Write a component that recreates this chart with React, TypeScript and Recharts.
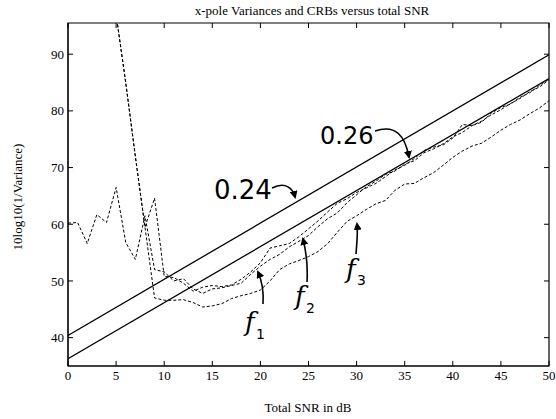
import React from 'react';
import { LineChart, Line, XAxis, YAxis, ReferenceLine, ReferenceArea } from 'recharts';

// total SNR in dB, 1 dB steps
const snr = [
  0, 1, 2, 3, 4, 5, 6, 7, 8, 9, 10, 11, 12, 13, 14, 15, 16, 17, 18, 19, 20, 21, 22, 23, 24, 25,
  26, 27, 28, 29, 30, 31, 32, 33, 34, 35, 36, 37, 38, 39, 40, 41, 42, 43, 44, 45, 46, 47, 48, 49, 50,
];

// 10log10(1/variance) for the three poles
const f1 = [
  60.2, 60.3, 56.6, 61.7, 60.3, 66.5, 56.8, 53.8, 61.5, 52, 51.6, 50, 50.4, 48.6, 47.8, 48.6, 48.8,
  49.2, 49.6, 51.2, 52.6, 53.8, 54.7, 56, 57, 58, 59.6, 61, 62, 63.8, 65.2, 66.6, 67.6, 68.8, 69.4,
  70.6, 71.2, 72.6, 73.3, 74.2, 75.4, 76.2, 77.4, 78.2, 79.3, 80.2, 81.3, 82.2, 83.4, 84.2, 85.5,
];
const f2 = [
  null, null, null, null, null, 97, 85, 72, 59.5, 64.6, 50.8, 50.6, 49.6, 48.2, 48.9, 49.2, 49,
  49.3, 50.3, 51.6, 53.2, 55.8, 56.2, 56.6, 57.8, 59.2, 60.6, 62.2, 63.7, 64.5, 65.6, 66.4, 67.2,
  68.4, 69.6, 70.4, 71.6, 73, 73.6, 74, 75.2, 77.6, 77.4, 78, 79.6, 80.6, 81.2, 82.4, 83.2, 84.5, 85.6,
];
const f3 = [
  null, null, null, null, null, 97, 85, 72, 59.5, 47, 46.6, 46.6, 46.7, 46.2, 45.4, 45.6, 46, 46.9,
  47.4, 47.8, 48.4, 50, 52, 53, 53.6, 54.3, 55.2, 56.6, 58.6, 60.5, 61.5, 62.6, 63.6, 64.2, 66,
  67.1, 67.2, 68.2, 69.1, 70.4, 71.8, 72.9, 73.8, 74.3, 75.4, 76.6, 77.6, 78.4, 79.5, 80.5, 81.8,
];

// CRB lines (straight), end points
const crbSnr = [0, 50];
const crb024 = [40.4, 89.9];
const crb026 = [36.3, 85.7];

const xTicks = [0, 5, 10, 15, 20, 25, 30, 35, 40, 45, 50];
const yTicks = [40, 50, 60, 70, 80, 90];

const X_MIN = 0;
const X_MAX = 50;
const Y_MIN = 35;
const Y_MAX = 95.5;
// inward tick length in data units (~5px)
const TICK_DX = 0.52;
const TICK_DY = 0.9;

const rows = snr.map((s, i) => {
  const k = crbSnr.indexOf(s);
  return {
    snr: s,
    f1: f1[i],
    f2: f2[i],
    f3: f3[i],
    c24: k >= 0 ? crb024[k] : null,
    c26: k >= 0 ? crb026[k] : null,
  };
});

const serif = '"Liberation Serif", "DejaVu Serif", serif';
const hand = '"DejaVu Sans", sans-serif';
const tickStyle = { fontFamily: serif, fontSize: 13, fill: '#000' };

const Notes = () => (
  <svg
    width={556}
    height={419}
    style={{ position: 'absolute', left: 0, top: 0, pointerEvents: 'none' }}
  >
    <defs>
      <marker id="ah" markerWidth="8" markerHeight="8" refX="6" refY="4" orient="auto" markerUnits="userSpaceOnUse">
        <path d="M0,0 L8,4 L0,8 z" fill="#000" />
      </marker>
    </defs>
    <text x={312} y={15} textAnchor="middle" fontFamily={serif} fontSize={13}>
      x-pole Variances and CRBs versus total SNR
    </text>
    <text x={308} y={412} textAnchor="middle" fontFamily={serif} fontSize={13}>
      Total SNR in dB
    </text>
    <text
      x={22}
      y={197}
      textAnchor="middle"
      fontFamily={serif}
      fontSize={13}
      transform="rotate(-90 22 197)"
    >
      10log10(1/Variance)
    </text>

    <g fill="#000" fontFamily={hand}>
      <text x={214} y={199} fontSize={26}>0.24</text>
      <text x={320} y={144} fontSize={24}>0.26</text>
      <text x={245} y={331} fontSize={26} fontStyle="italic" fontFamily='"DejaVu Serif", serif'>f</text>
      <text x={256} y={339} fontSize={14}>1</text>
      <text x={295} y={305} fontSize={26} fontStyle="italic" fontFamily='"DejaVu Serif", serif'>f</text>
      <text x={306} y={313} fontSize={14}>2</text>
      <text x={346} y={278} fontSize={26} fontStyle="italic" fontFamily='"DejaVu Serif", serif'>f</text>
      <text x={357} y={285} fontSize={14}>3</text>
    </g>
    <g fill="none" stroke="#000" strokeWidth={1.6}>
      <path d="M 272 188 C 286 181, 293 189, 295 197" markerEnd="url(#ah)" />
      <path d="M 375 131 C 396 124, 405 136, 409 157" markerEnd="url(#ah)" />
      <path d="M 263 304 C 264 290, 262 281, 258 272" markerEnd="url(#ah)" />
      <path d="M 307 282 C 308 265, 306 251, 303 239" markerEnd="url(#ah)" />
      <path d="M 356 254 C 357 241, 358 232, 357 224" markerEnd="url(#ah)" />
    </g>
  </svg>
);

export default function App() {
  return (
    <div style={{ position: 'absolute', left: 0, top: 0, width: 556, height: 419, background: '#fff' }}>
      <LineChart
        width={556}
        height={419}
        data={rows}
        margin={{ top: 23, right: 7, bottom: 0, left: 0 }}
      >
        <XAxis
          dataKey="snr"
          type="number"
          domain={[X_MIN, X_MAX]}
          ticks={xTicks}
          allowDataOverflow
          height={53}
          tickLine={false}
          tickSize={0}
          tickMargin={5}
          tick={tickStyle}
          stroke="#000"
        />
        <YAxis
          type="number"
          domain={[Y_MIN, Y_MAX]}
          ticks={yTicks}
          allowDataOverflow
          width={68}
          tickLine={false}
          tickSize={0}
          tickMargin={4}
          tick={tickStyle}
          stroke="#000"
        />
        {/* axes box */}
        <ReferenceArea
          x1={X_MIN}
          x2={X_MAX}
          y1={Y_MIN}
          y2={Y_MAX}
          fill="none"
          fillOpacity={0}
          stroke="#000"
          strokeWidth={1.2}
          ifOverflow="visible"
        />
        {/* inward ticks on all four sides */}
        {xTicks.map((t) => (
          <ReferenceLine key={'xb' + t} segment={[{ x: t, y: Y_MIN }, { x: t, y: Y_MIN + TICK_DY }]} stroke="#000" ifOverflow="visible" />
        ))}
        {xTicks.map((t) => (
          <ReferenceLine key={'xt' + t} segment={[{ x: t, y: Y_MAX - TICK_DY }, { x: t, y: Y_MAX }]} stroke="#000" ifOverflow="visible" />
        ))}
        {yTicks.map((t) => (
          <ReferenceLine key={'yl' + t} segment={[{ x: X_MIN, y: t }, { x: X_MIN + TICK_DX, y: t }]} stroke="#000" ifOverflow="visible" />
        ))}
        {yTicks.map((t) => (
          <ReferenceLine key={'yr' + t} segment={[{ x: X_MAX - TICK_DX, y: t }, { x: X_MAX, y: t }]} stroke="#000" ifOverflow="visible" />
        ))}
        <Line dataKey="c24" stroke="#000" strokeWidth={1.3} dot={false} connectNulls isAnimationActive={false} />
        <Line dataKey="c26" stroke="#000" strokeWidth={1.3} dot={false} connectNulls isAnimationActive={false} />
        <Line dataKey="f1" stroke="#000" strokeWidth={1} strokeDasharray="3 2" dot={false} isAnimationActive={false} />
        <Line dataKey="f2" stroke="#000" strokeWidth={1} strokeDasharray="3 2" dot={false} isAnimationActive={false} />
        <Line dataKey="f3" stroke="#000" strokeWidth={1} strokeDasharray="3 2" dot={false} isAnimationActive={false} />
      </LineChart>
      <Notes />
    </div>
  );
}
